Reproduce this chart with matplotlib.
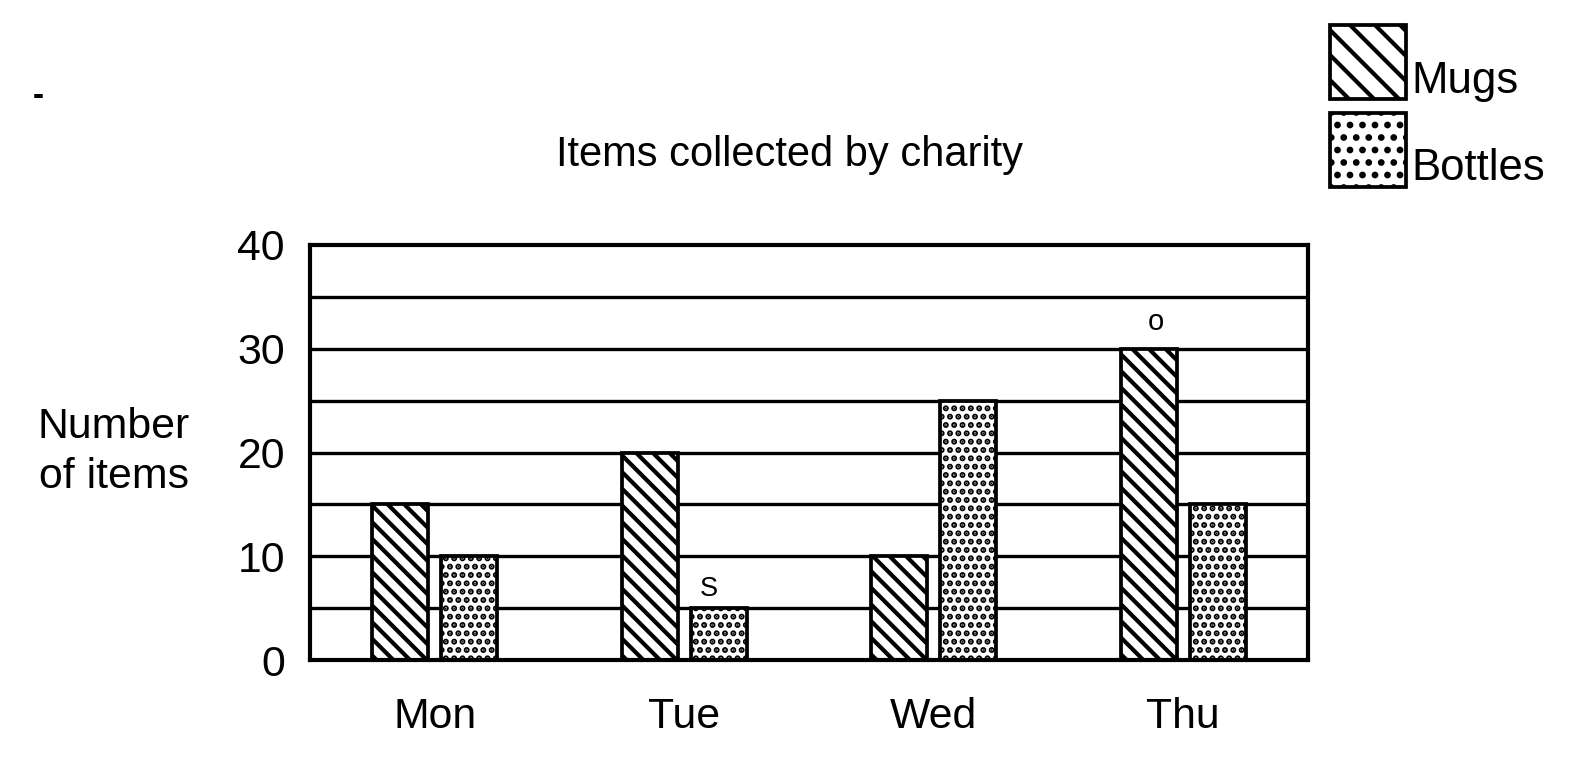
import numpy as np
import matplotlib
matplotlib.use('Agg')
import matplotlib.pyplot as plt
from matplotlib.patches import Rectangle

days = ['Mon', 'Tue', 'Wed', 'Thu']
mugs = [15, 20, 10, 30]
bottles = [10, 5, 25, 15]
yticks = [0, 10, 20, 30, 40]

plt.rcParams['font.family'] = ['Liberation Sans', 'DejaVu Sans']
plt.rcParams['hatch.linewidth'] = 2.0
plt.rcParams['hatch.color'] = 'black'

DPI = 150
fig = plt.figure(figsize=(1588 / DPI, 762 / DPI), dpi=DPI)
ax = fig.add_axes([310 / 1588, 1 - 660 / 762, 998 / 1588, 415 / 762])

x = np.arange(len(days))
w = 0.225
off = 0.138

# grid every 5
for y in range(5, 40, 5):
    ax.axhline(y, color='black', lw=1.6, zorder=1)

ax.bar(x - off, mugs, w, facecolor='white', edgecolor='black', hatch='\\\\\\',
       lw=1.8, zorder=2)
ax.bar(x + off, bottles, w, facecolor='white', edgecolor='black', hatch='...',
       lw=1.8, zorder=2)

ax.set_xlim(-0.5, 3.5)
ax.set_ylim(0, 40)
ax.set_yticks(yticks)
ax.set_xticks(x)
ax.set_xticklabels(days)
ax.tick_params(length=0, labelsize=20.5)
ax.tick_params(axis='x', pad=18)
ax.tick_params(axis='y', pad=12)
for s in ax.spines.values():
    s.set_linewidth(2)

# handwritten marks
ax.text(1 + off - 0.04, 5.6, 'S', fontsize=13, ha='center', va='bottom')
ax.text(3 - off + 0.03, 31.2, 'o', fontsize=14, ha='center', va='bottom')

fig.text(790 / 1588, 1 - 155 / 762, 'Items collected by charity', fontsize=20,
         ha='center', va='center')
fig.text(114 / 1588, 1 - 452 / 762, 'Number\nof items', fontsize=20.5,
         ha='center', va='center', linespacing=1.3)

# legend
for (y0, h, lab) in [(25, '\\\\', 'Mugs'), (113, '..', 'Bottles')]:
    r = Rectangle((1330 / 1588, 1 - (y0 + 74) / 762), 76 / 1588, 74 / 762,
                  transform=fig.transFigure, facecolor='white',
                  edgecolor='black', hatch=h, lw=1.8)
    fig.add_artist(r)
    fig.text(1411 / 1588, 1 - (y0 + 56) / 762, lab, fontsize=21,
             ha='left', va='center')

fig.text(38 / 1588, 1 - 97 / 762, '-', fontsize=16, ha='center', va='center',
         fontweight='bold')

plt.savefig('out.png', dpi=DPI)
